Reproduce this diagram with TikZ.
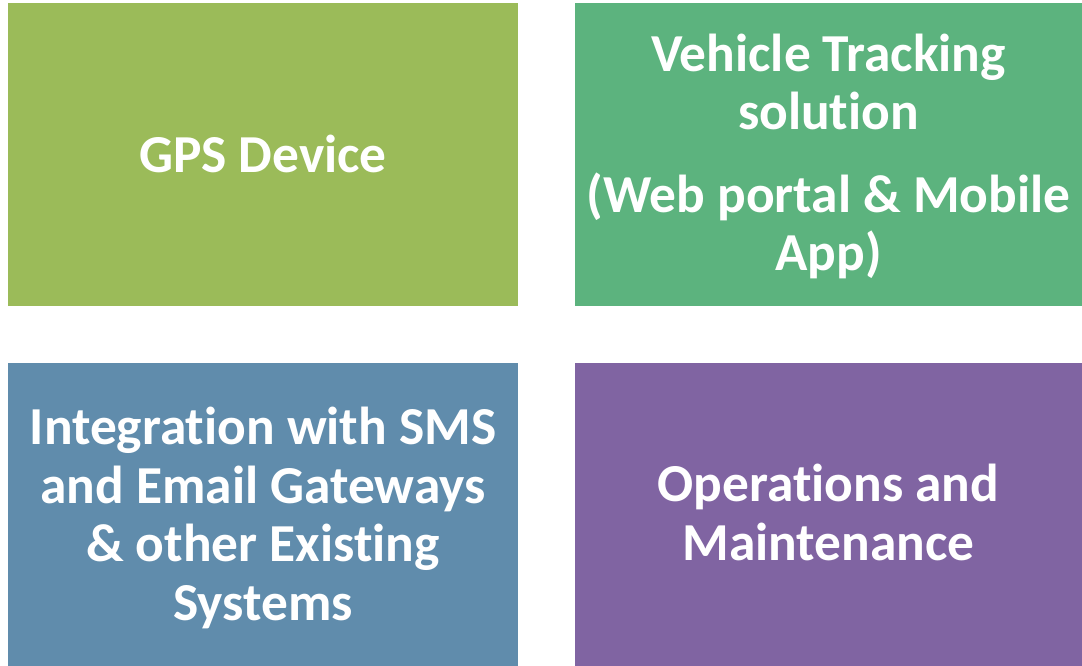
\documentclass[tikz,border=0pt]{standalone}
\usepackage{fontspec}
\setmainfont{Carlito}[Ligatures=CommonOff]
\definecolor{cgps}{HTML}{9BBB59}
\definecolor{cvts}{HTML}{5CB37E}
\definecolor{cint}{HTML}{608CAC}
\definecolor{cops}{HTML}{8064A2}
\tikzset{
  tile/.style={rectangle, draw=none, inner sep=0pt, minimum width=#1, minimum height=303pt},
  tiletext/.style={text=white, align=center, font=\fontsize{53.4}{58.6}\selectfont\bfseries, inner sep=0pt}
}
\begin{document}
\begin{tikzpicture}[x=1pt,y=-1pt]
\useasboundingbox (0,0) rectangle (1082,666);
\fill[white] (0,0) rectangle (1082,666);
\node[tile=510pt, fill=cgps] (gps) at (263,154.5) {};
\node[tile=507pt, fill=cvts] (vts) at (828.5,154.5) {};
\node[tile=510pt, fill=cint] (int) at (263,514.5) {};
\node[tile=507pt, fill=cops] (ops) at (828.5,514.5) {};
\node[tiletext] (gpst) at ([yshift=1pt]gps.center) {GPS Device};
\node[tiletext] (vtst) at ([yshift=-2pt]vts.center) {Vehicle Tracking\\solution\\[24pt](Web portal \& Mobile\\App)};
\node[tiletext] (intt) at ([yshift=-3.5pt]int.center) {Integration with SMS\\and Email Gateways\\\& other Existing\\Systems};
\node[tiletext] (opst) at ([yshift=2pt]ops.center) {Operations and\\Maintenance};
\end{tikzpicture}
\end{document}
